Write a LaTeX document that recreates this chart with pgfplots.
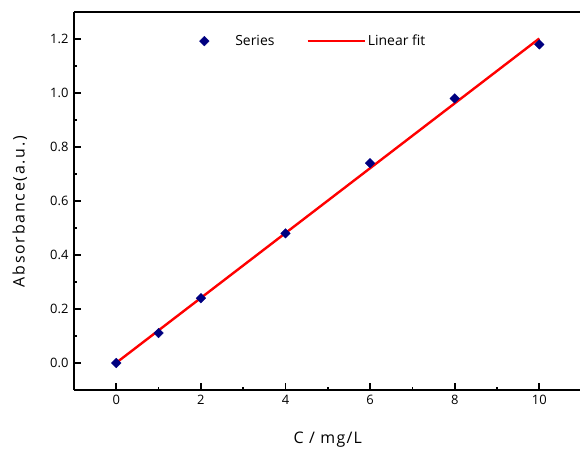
\documentclass[border=0pt]{standalone}
\usepackage{fontspec}
\setmainfont{Open Sans}
\newfontfamily\lblfont[LetterSpace=11]{Open Sans}
\newfontfamily\xlblfont[LetterSpace=8]{Open Sans}
\usepackage{pgfplots}
\pgfplotsset{compat=1.18}
\definecolor{navyblue}{HTML}{000080}
\definecolor{fitred}{HTML}{FF0000}
\pgfplotsset{
  markleg/.style={legend image code/.code={\path[draw=none] (0bp,0bp) -- (29bp,0bp); \draw[##1] plot coordinates {(0bp,0bp)};}},
  lineleg/.style={legend image code/.code={\draw[##1] (0bp,0bp) -- (57bp,0bp);}},
}
\begin{document}
\begin{tikzpicture}
\begin{axis}[
  scale only axis, width=507.6bp, height=378bp,
  xmin=-1, xmax=11, ymin=-0.1, ymax=1.3,
  axis x line*=bottom, axis y line*=left,
  axis line style={line width=2bp, -},
  tick align=inside,
  major tick length=7bp, minor tick length=3.5bp,
  every tick/.style={line width=1.8bp, black},
  xtick={0,2,4,6,8,10}, minor xtick={1,3,5,7,9},
  ytick={0,0.2,0.4,0.6,0.8,1.0,1.2}, minor ytick={0.1,0.3,0.5,0.7,0.9,1.1},
  yticklabel style={/pgf/number format/fixed, /pgf/number format/fixed zerofill, /pgf/number format/precision=1, xshift=-2bp},
  /pgf/number format/assume math mode=true,
  tick label style={font=\fontsize{13}{15}\selectfont},
  xticklabel style={yshift=-2bp},
  xlabel={\xlblfont\fontsize{16}{18}\selectfont C / mg/L},
  ylabel={\lblfont\fontsize{16}{18}\selectfont Absorbance(a.u.)},
  x label style={at={(axis description cs:0.5,-0.132)}, anchor=center},
  y label style={at={(axis description cs:-0.1067,0.472)}, anchor=center},
  legend style={draw=none, fill=none, at={(axis description cs:0.241,0.923)}, anchor=west,
    font=\fontsize{14}{16}\selectfont, legend columns=2,
    /tikz/every even column/.append style={column sep=30bp}},
  legend cell align=left,
]
\addplot[only marks, mark=square*, mark size=3.4bp, color=navyblue,
  mark options={rotate=45, fill=navyblue, draw=navyblue}, markleg]
  coordinates {(0,0.0) (1,0.111) (2,0.24) (4,0.48) (6,0.74) (8,0.98) (10,1.18)};
\addlegendentry{Series}
\addplot[fitred, line width=2.4bp, lineleg]
  coordinates {(0,0.0009) (10,1.2019)};
\addlegendentry{Linear fit}
\draw[line width=2bp] (rel axis cs:0,1) -- (rel axis cs:1,1);
\coordinate (bl) at (rel axis cs:0,0);
\end{axis}
\pgfresetboundingbox
\path[use as bounding box] (bl) ++(-74bp,-59bp) rectangle ++(580bp,449bp);
\end{tikzpicture}
\end{document}
